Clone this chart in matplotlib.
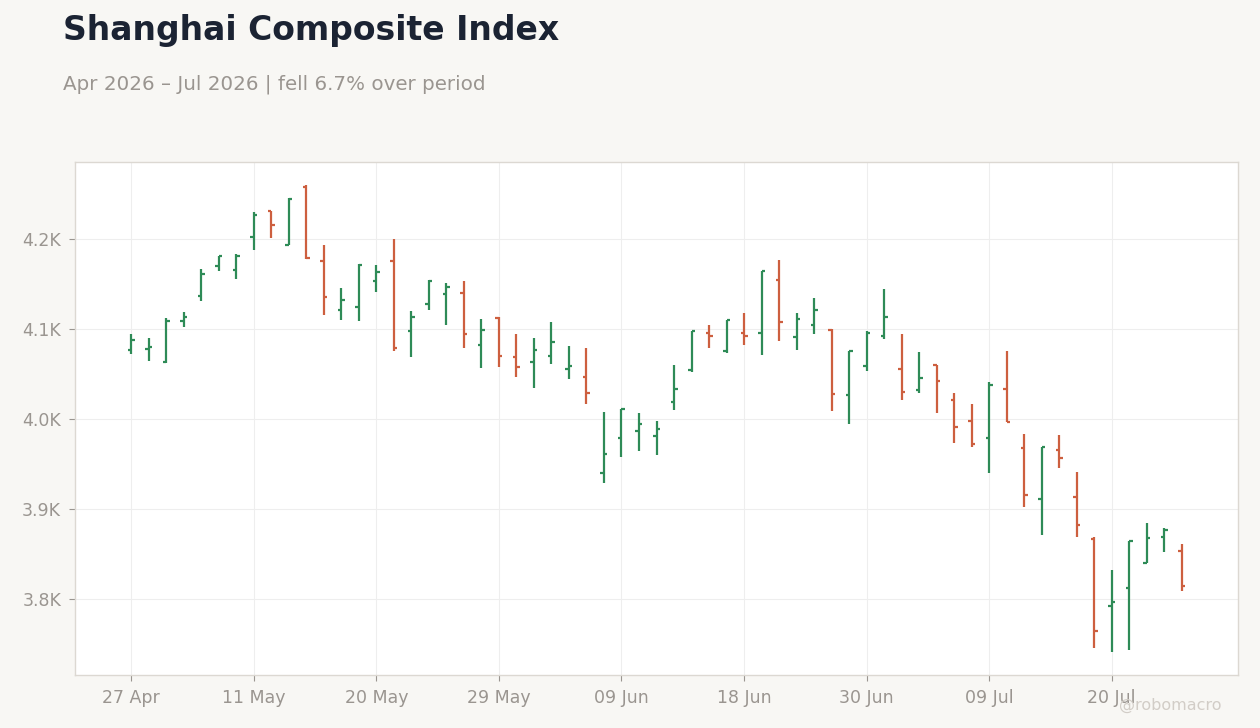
import numpy as np
import pandas as pd
import matplotlib
matplotlib.use("Agg")
import matplotlib.pyplot as plt

# ---- data ----
holidays = ["2026-05-01", "2026-05-04", "2026-05-05", "2026-06-19"]
dates = [d for d in pd.bdate_range("2026-04-27", "2026-07-24")
         if d.strftime("%Y-%m-%d") not in holidays]

opens = [4076.3, 4077.4, 4062.9, 4108.5, 4136.3, 4169.6, 4165.1, 4201.8, 4230.7, 4192.6,
         4257.7, 4174.7, 4120.7, 4124.0, 4153.6, 4174.7, 4097.3, 4127.0, 4138.1, 4139.6,
         4081.8, 4111.5, 4068.5, 4062.9, 4069.6, 4055.2, 4046.3, 3939.6, 3978.5, 3986.3,
         3980.7, 4018.5, 4054.0, 4095.1, 4075.1, 4095.1, 4095.1, 4154.0, 4090.7, 4104.0,
         4099.2, 4027.0, 4059.2, 4091.8, 4055.2, 4031.8, 4060.4, 4020.7, 3997.4, 3978.5,
         4033.0, 3967.4, 3910.7, 3965.1, 3912.9, 3866.6, 3792.9, 3812.9, 3840.7, 3868.5,
         3854.0]
highs = [4093.7, 4090.0, 4112.2, 4118.9, 4166.6, 4180.7, 4183.3, 4230.0, 4230.7, 4244.8,
         4259.2, 4192.5, 4145.5, 4171.4, 4170.3, 4199.9, 4120.3, 4154.4, 4151.0, 4153.6,
         4111.4, 4113.3, 4093.7, 4090.0, 4107.8, 4081.1, 4078.9, 4007.8, 4011.1, 4006.6,
         3997.8, 4060.0, 4097.7, 4104.4, 4110.0, 4118.1, 4164.4, 4175.9, 4118.1, 4133.7,
         4100.0, 4075.5, 4097.8, 4143.7, 4094.8, 4074.8, 4060.4, 4028.9, 4016.7, 4041.5,
         4075.9, 3983.6, 3968.5, 3982.5, 3941.4, 3869.2, 3832.5, 3865.1, 3884.8, 3879.2,
         3861.4]
lows = [4072.2, 4064.0, 4062.2, 4102.2, 4130.7, 4164.0, 4155.5, 4187.4, 4201.1, 4192.6,
        4177.7, 4115.1, 4109.5, 4108.4, 4140.7, 4075.1, 4068.4, 4120.7, 4104.7, 4078.4,
        4056.6, 4057.4, 4046.3, 4034.4, 4060.7, 4044.1, 4016.3, 3928.9, 3957.4, 3964.0,
        3959.6, 4009.6, 4051.8, 4078.5, 4073.7, 4081.8, 4070.7, 4086.2, 4076.2, 4094.0,
        4008.5, 3994.1, 4053.0, 4088.5, 4020.7, 4028.5, 4006.3, 3972.9, 3968.5, 3939.6,
        3996.7, 3901.8, 3870.7, 3945.1, 3868.5, 3746.2, 3741.8, 3744.0, 3840.0, 3852.9,
        3809.6]
closes = [4087.4, 4079.6, 4108.5, 4112.9, 4160.3, 4180.7, 4180.7, 4226.3, 4214.8, 4244.4,
          4178.1, 4135.8, 4132.5, 4170.6, 4162.9, 4078.4, 4113.6, 4153.6, 4146.2, 4094.7,
          4099.2, 4069.6, 4058.1, 4076.3, 4085.2, 4058.5, 4028.5, 3960.7, 4010.7, 3994.1,
          3988.5, 4032.9, 4097.4, 4092.5, 4109.6, 4091.8, 4163.7, 4107.4, 4111.4, 4121.4,
          4028.1, 4075.2, 4095.2, 4113.0, 4029.6, 4045.2, 4041.8, 3990.7, 3971.8, 4037.4,
          3997.0, 3915.1, 3968.5, 3956.2, 3882.5, 3765.1, 3797.4, 3865.1, 3867.4, 3877.3,
          3815.1]

title = "Shanghai Composite Index"
subtitle = "Apr 2026 \u2013 Jul 2026 | fell 6.7% over period"
watermark = "@robomacro"

# ---- style ----
BG = "#f8f7f4"
UP = "#2e8b57"
DOWN = "#cd5f3f"
GRAY = "#9a9590"

fig = plt.figure(figsize=(12.6, 7.28), dpi=100, facecolor=BG)
ax = fig.add_axes([75/1260, 1-675/728, (1238-75)/1260, (675-162)/728])
ax.set_facecolor("white")

x = np.arange(len(opens))
tw = 0.2
for i in x:
    o, h, l, c = opens[i], highs[i], lows[i], closes[i]
    col = UP if c >= o else DOWN
    ax.plot([i, i], [l, h], color=col, lw=1.6, solid_capstyle="butt", zorder=3)
    ax.plot([i - tw, i], [o, o], color=col, lw=1.6, solid_capstyle="butt", zorder=3)
    ax.plot([i, i + tw], [c, c], color=col, lw=1.6, solid_capstyle="butt", zorder=3)

ax.margins(x=0.05, y=0.05)
ax.set_xlim(-3.22, 63.22)

tick_pos = list(range(0, len(dates), 7))
ax.set_xticks(tick_pos)
ax.set_xticklabels([dates[i].strftime("%d %b") for i in tick_pos])
yt = [3800, 3900, 4000, 4100, 4200]
ax.set_yticks(yt)
ax.set_yticklabels([f"{v/1000:.1f}K" for v in yt])

ax.grid(True, color="#eeeeee", lw=0.8, zorder=0)
ax.set_axisbelow(True)
for s in ax.spines.values():
    s.set_color("#dcd8d2")
    s.set_linewidth(1.0)
ax.tick_params(colors=GRAY, labelsize=12.5, length=4, width=0.8, pad=6)
for lab in ax.get_xticklabels() + ax.get_yticklabels():
    lab.set_color(GRAY)

fig.text(63/1260, 1-14/728, title, fontsize=23.8, fontweight="bold",
         color="#1b2333", ha="left", va="top")
fig.text(63/1260, 1-75/728, subtitle, fontsize=14.3, color=GRAY,
         ha="left", va="top")
fig.text(1222/1260, 1-705/728, watermark, fontsize=11.5, color="#d2cdc7",
         ha="right", va="center")

fig.savefig("out.png", dpi=100, facecolor=BG)
